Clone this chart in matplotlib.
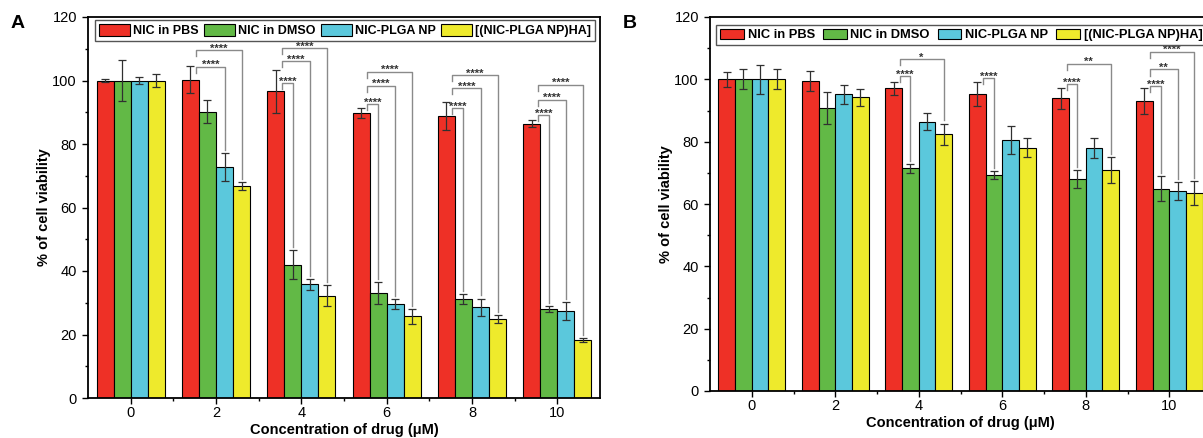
import matplotlib
matplotlib.use('Agg')
import matplotlib.pyplot as plt
from matplotlib.patches import Patch
from matplotlib.ticker import MultipleLocator, FixedLocator
import numpy as np

plt.rcParams['font.family'] = ['Liberation Sans', 'DejaVu Sans']

# ----- Data -----
conc_labels = ['0', '2', '4', '6', '8', '10']
series_names = ['NIC in PBS', 'NIC in DMSO', 'NIC-PLGA NP', '[(NIC-PLGA NP)HA]']
series_colors = ['#ee3026', '#62b946', '#5bc8dc', '#eeea2c']

# panel A
a_pbs = [100.0, 100.3, 96.6, 89.8, 88.8, 86.4]
a_pbs_err = [0.5, 4.2, 6.8, 1.5, 4.4, 1.1]
a_dmso = [100.0, 90.2, 42.0, 33.0, 31.2, 28.0]
a_dmso_err = [6.4, 3.7, 4.6, 3.5, 1.6, 0.9]
a_np = [100.0, 72.8, 35.8, 29.5, 28.6, 27.4]
a_np_err = [1.2, 4.3, 1.7, 1.6, 2.7, 2.7]
a_ha = [100.0, 66.8, 32.2, 25.7, 24.8, 18.2]
a_ha_err = [2.2, 1.3, 3.3, 2.3, 1.2, 0.7]

# significance brackets A: group, compared series, bracket height, label
a_sig_group = [1, 1, 2, 2, 2, 3, 3, 3, 4, 4, 4, 5, 5, 5]
a_sig_target = [2, 3, 1, 2, 3, 1, 2, 3, 1, 2, 3, 1, 2, 3]
a_sig_level = [104.3, 109.6, 99.2, 106.1, 110.2, 92.6, 98.3, 102.7,
               91.3, 97.6, 101.7, 89.1, 93.9, 98.6]
a_sig_text = ['****'] * 14

# panel B
b_pbs = [100.0, 99.5, 97.1, 95.2, 93.9, 93.0]
b_pbs_err = [2.5, 3.2, 2.0, 3.9, 3.3, 4.1]
b_dmso = [100.0, 90.8, 71.4, 69.2, 67.9, 64.9]
b_dmso_err = [3.2, 5.0, 1.5, 1.3, 2.9, 4.0]
b_np = [100.0, 95.2, 86.4, 80.5, 77.9, 64.1]
b_np_err = [4.7, 3.0, 2.8, 4.4, 3.2, 2.9]
b_ha = [100.0, 94.2, 82.3, 78.1, 70.8, 63.6]
b_ha_err = [3.2, 2.8, 3.5, 3.0, 4.2, 3.9]

b_sig_group = [2, 2, 3, 4, 4, 5, 5, 5]
b_sig_target = [1, 3, 1, 1, 3, 1, 2, 3]
b_sig_level = [101.0, 106.5, 100.4, 98.5, 105.0, 97.8, 103.2, 108.8]
b_sig_text = ['****', '*', '****', '****', '**', '****', '**', '****']


def draw_panel(ax, means, errs, sig_group, sig_target, sig_level, sig_text):
    x = np.arange(len(conc_labels))
    width = 0.2
    offsets = (np.arange(4) - 1.5) * width
    for i in range(4):
        ax.bar(x + offsets[i], means[i], width, color=series_colors[i],
               edgecolor='black', linewidth=0.8, zorder=2,
               yerr=errs[i],
               error_kw=dict(ecolor='#303030', elinewidth=0.9, capsize=3, capthick=0.9))

    for g, t, level, txt in zip(sig_group, sig_target, sig_level, sig_text):
        xl = g + offsets[0] + 0.07
        xr = g + offsets[t]
        bottom = means[t][g] + errs[t][g] + 1.0
        ax.plot([xl, xl, xr, xr], [level - 2, level, level, bottom],
                color='#8a8a8a', lw=1, zorder=3)
        ax.annotate(txt, ((xl + xr) / 2, level), xytext=(0, -1),
                    textcoords='offset points', ha='center', va='baseline',
                    fontsize=8, color='#333333', fontweight='bold')

    ax.set_xlim(-0.5, 5.5)
    ax.set_ylim(0, 120)
    ax.set_xticks(x)
    ax.set_xticklabels(conc_labels)
    ax.xaxis.set_minor_locator(FixedLocator(x[:-1] + 0.5))
    ax.yaxis.set_major_locator(MultipleLocator(20))
    ax.yaxis.set_minor_locator(MultipleLocator(10))
    ax.tick_params(axis='both', which='major', direction='out', length=4,
                   width=1, labelsize=10.5, colors='black')
    ax.tick_params(axis='both', which='minor', direction='out', length=2.5, width=1)
    ax.tick_params(axis='x', pad=2)
    ax.tick_params(axis='y', pad=4)
    for s in ax.spines.values():
        s.set_linewidth(1.3)
    ax.set_xlabel('Concentration of drug (μM)', fontsize=10.5, fontweight='bold', labelpad=2)
    ax.set_ylabel('% of cell viability', fontsize=10.5, fontweight='bold', labelpad=1)


fig = plt.figure(figsize=(12.03, 4.38), dpi=100)
W, H = 1203, 438

ax_a = fig.add_axes([88 / W, (H - 398) / H, 512 / W, 381 / H])
draw_panel(ax_a, [a_pbs, a_dmso, a_np, a_ha], [a_pbs_err, a_dmso_err, a_np_err, a_ha_err],
           a_sig_group, a_sig_target, a_sig_level, a_sig_text)

ax_b = fig.add_axes([710 / W, (H - 391) / H, 501 / W, 374 / H])
draw_panel(ax_b, [b_pbs, b_dmso, b_np, b_ha], [b_pbs_err, b_dmso_err, b_np_err, b_ha_err],
           b_sig_group, b_sig_target, b_sig_level, b_sig_text)

handles = [Patch(facecolor=c, edgecolor='black', linewidth=0.8) for c in series_colors]

leg_a = ax_a.legend(handles, series_names, loc='upper left', bbox_to_anchor=(7 / 512, 1 - 3 / 381),
                    borderaxespad=0, ncol=4, fancybox=False, edgecolor='#555555', framealpha=1,
                    prop=dict(size=9, weight='bold'), handlelength=2.5, handleheight=1.1,
                    handletextpad=0.25, columnspacing=0.4, borderpad=0.3)
leg_a.get_frame().set_linewidth(1)

leg_b = ax_b.legend(handles, series_names, loc='upper left', bbox_to_anchor=(6 / 501, 1 - 8 / 374),
                    borderaxespad=0, ncol=4, fancybox=False, edgecolor='#555555', framealpha=1,
                    prop=dict(size=9.3, weight='bold'), handlelength=1.85, handleheight=0.85,
                    handletextpad=0.3, columnspacing=0.6, borderpad=0.3)
leg_b.get_frame().set_linewidth(1)

fig.text(18 / W, 1 - 24 / H, 'A', fontsize=14, fontweight='bold', ha='center', va='center')
fig.text(630 / W, 1 - 24 / H, 'B', fontsize=14, fontweight='bold', ha='center', va='center')

fig.savefig('out.png', dpi=100)
